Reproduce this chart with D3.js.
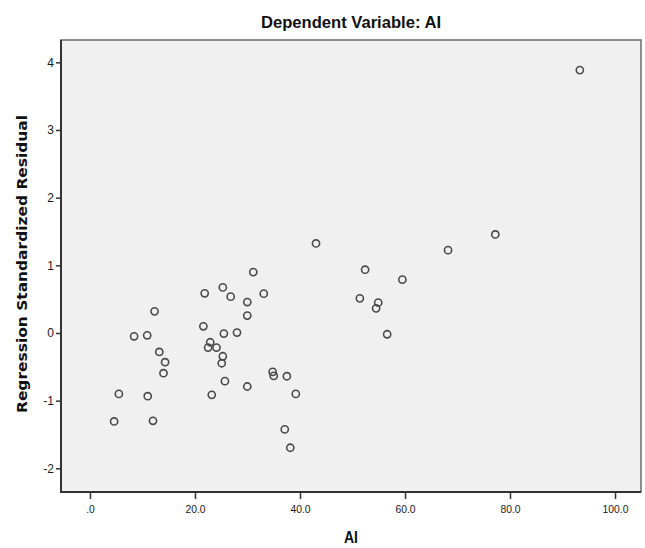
<!DOCTYPE html>
<html>
<head>
<meta charset="utf-8">
<script src="https://cdn.jsdelivr.net/npm/d3@7"></script>
<style>
  html, body { margin: 0; padding: 0; background: #ffffff; }
  svg { display: block; }
</style>
</head>
<body>
<script>
// Observed AI values (x) and regression standardized residuals (y)
const aiValues = [
  93.3, 77.2, 68.2, 43.05, 52.4, 59.5, 51.4, 54.9, 54.5, 56.6,
  31.1, 25.3, 21.85, 26.8, 33.1, 29.96, 29.96, 12.3, 21.6, 25.5,
  28.0, 8.4, 10.9, 13.2, 14.3, 14.0, 22.9, 22.5, 24.1, 25.3,
  25.1, 25.7, 23.2, 29.96, 5.5, 11.0, 4.6, 12.0, 34.8, 35.0,
  37.5, 39.2, 37.1, 38.15
];
const residuals = [
  3.885, 1.456, 1.224, 1.323, 0.935, 0.788, 0.512, 0.448, 0.364, -0.019,
  0.900, 0.674, 0.586, 0.537, 0.581, 0.457, 0.257, 0.320, 0.099, -0.009,
  0.006, -0.049, -0.034, -0.280, -0.432, -0.594, -0.137, -0.215, -0.215, -0.344,
  -0.447, -0.712, -0.914, -0.791, -0.900, -0.934, -1.307, -1.298, -0.575, -0.634,
  -0.639, -0.900, -1.425, -1.696
];
const xTickValues = [0, 20, 40, 60, 80, 100];
const yTickValues = [-2, -1, 0, 1, 2, 3, 4];
const chartTitle = "Dependent Variable: AI";
const xTitle = "AI";
const yTitle = "Regression Standardized Residual";

const width = 645, height = 548;
const plot = { left: 61, right: 641, top: 40, bottom: 492 };

const x = d3.scaleLinear().domain([-5.52, 104.95]).range([plot.left, plot.right]);
const y = d3.scaleLinear().domain([-2.35, 4.33]).range([plot.bottom, plot.top]);

const svg = d3.select("body").append("svg")
  .attr("width", width).attr("height", height);

// plot background
svg.append("rect")
  .attr("x", plot.left).attr("y", plot.top)
  .attr("width", plot.right - plot.left).attr("height", plot.bottom - plot.top)
  .attr("fill", "#f0f0f0")
  .attr("stroke", "#6a6a6a").attr("stroke-width", 1.5);

const tickFont = "'Liberation Sans', Arial, sans-serif";

// x axis
const fmtX = d => d === 0 ? ".0" : d3.format(".1f")(d);
const xAxis = svg.append("g")
  .attr("transform", `translate(0,${plot.bottom})`)
  .call(d3.axisBottom(x).tickValues(xTickValues).tickFormat(fmtX).tickSizeOuter(0).tickSize(7).tickPadding(6));
xAxis.select(".domain").attr("stroke", "#333").attr("stroke-width", 2)
  .attr("d", `M${plot.left - 1},0H${plot.right}`);
xAxis.selectAll(".tick line").attr("stroke", "#333").attr("stroke-width", 1.5);
xAxis.selectAll(".tick text")
  .attr("font-family", tickFont)
  .attr("font-size", 11.5).attr("fill", "#1a1a1a")
  .style("transform", "scaleX(0.9)");

// y axis (plain hyphen for negatives)
const yAxis = svg.append("g")
  .attr("transform", `translate(${plot.left},0)`)
  .call(d3.axisLeft(y).tickValues(yTickValues).tickFormat(d => String(d)).tickSizeOuter(0).tickSize(5).tickPadding(2));
yAxis.select(".domain").attr("stroke", "#333").attr("stroke-width", 2)
  .attr("d", `M0,${plot.top}V${plot.bottom + 1}`);
yAxis.selectAll(".tick line").attr("stroke", "#333").attr("stroke-width", 1.5);
yAxis.selectAll(".tick text")
  .attr("font-family", tickFont)
  .attr("font-size", 12).attr("fill", "#1a1a1a");

// points
svg.append("g").selectAll("circle")
  .data(aiValues.map((v, i) => [v, residuals[i]]))
  .join("circle")
  .attr("cx", d => x(d[0]))
  .attr("cy", d => y(d[1]))
  .attr("r", 3.6)
  .attr("fill", "none")
  .attr("stroke", "#4a4a4a")
  .attr("stroke-width", 1.6);

// chart title
svg.append("text")
  .attr("x", (plot.left + plot.right) / 2).attr("y", 28)
  .attr("text-anchor", "middle")
  .attr("font-family", "'Liberation Sans', Arial, sans-serif")
  .attr("font-size", 16).attr("font-weight", "bold").attr("fill", "#111")
  .attr("textLength", 180).attr("lengthAdjust", "spacingAndGlyphs")
  .text(chartTitle);

// x axis title
svg.append("text")
  .attr("x", (plot.left + plot.right) / 2).attr("y", 543)
  .attr("text-anchor", "middle")
  .attr("font-family", "'Liberation Sans', Arial, sans-serif")
  .attr("font-size", 16).attr("font-weight", "bold").attr("fill", "#111")
  .attr("textLength", 14).attr("lengthAdjust", "spacingAndGlyphs")
  .text(xTitle);

// y axis title
svg.append("text")
  .attr("transform", `translate(27,264) rotate(-90)`)
  .attr("text-anchor", "middle")
  .attr("font-family", "'DejaVu Sans', Verdana, sans-serif")
  .attr("font-size", 14.5).attr("font-weight", "bold").attr("fill", "#111")
  .attr("textLength", 298).attr("lengthAdjust", "spacingAndGlyphs")
  .text(yTitle);
</script>
</body>
</html>
